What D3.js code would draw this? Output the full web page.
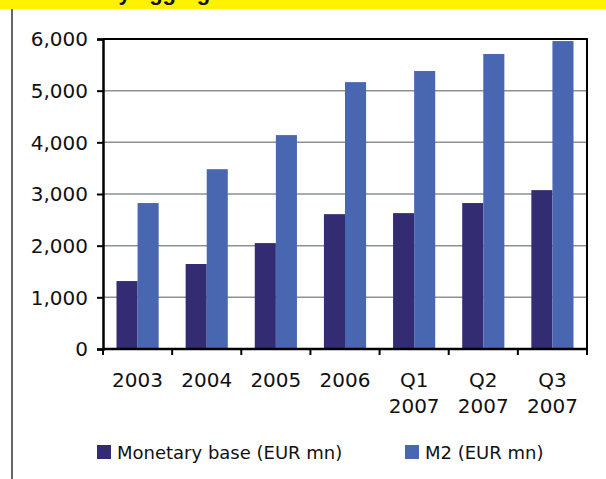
<!DOCTYPE html>
<html>
<head>
<meta charset="utf-8">
<script src="https://cdn.jsdelivr.net/npm/d3@7"></script>
<style>
  body { margin: 0; background: #fff; }
  svg text { font-family: "DejaVu Sans", sans-serif; fill: #111; }
</style>
</head>
<body>
<svg id="chart" width="606" height="479"></svg>
<script>
// data
let categories = ["2003", "2004", "2005", "2006", "Q1 2007", "Q2 2007", "Q3 2007"];
let monetaryBase = [1315, 1645, 2050, 2610, 2630, 2825, 3075];
let m2 = [2825, 3480, 4140, 5165, 5380, 5710, 5960];
let seriesNames = ["Monetary base (EUR mn)", "M2 (EUR mn)"];
let yTicks = [0, 1000, 2000, 3000, 4000, 5000, 6000];

let colors = ["#332c72", "#4867b0"];

let svg = d3.select("#chart");
let margin = {left: 103, right: 19, top: 39, bottom: 130},
    w = 606, h = 479;

// yellow title banner, only the bottom of it is visible
svg.append("clipPath").attr("id", "bannerClip")
    .append("rect").attr("x", 0).attr("y", 0).attr("width", w).attr("height", 9);
svg.append("rect")
    .attr("x", 0).attr("y", 0).attr("width", w).attr("height", 9)
    .attr("fill", "#fff200");
svg.append("text")
    .attr("clip-path", "url(#bannerClip)")
    .attr("x", 33).attr("y", 0)
    .style("font-family", "Liberation Sans, Arial, sans-serif")
    .style("font-weight", "bold")
    .style("font-size", "22px")
    .text("Monetary aggregates");

// left rule of the page
svg.append("line")
    .attr("x1", 12).attr("x2", 12).attr("y1", 9).attr("y2", h)
    .attr("stroke", "#333").attr("stroke-width", 1.5);

let x0 = d3.scaleBand().domain(categories)
    .range([margin.left, w - margin.right]);
let x1 = d3.scaleBand().domain([0, 1])
    .range([0, x0.bandwidth()])
    .paddingOuter(0.64);
let y = d3.scaleLinear().domain([0, 6000])
    .range([h - margin.bottom, margin.top]);

// gridlines
svg.append("g")
    .selectAll("line")
    .data(yTicks.filter(d => d > 0 && d < 6000))
    .enter()
    .append("line")
    .attr("x1", margin.left).attr("x2", w - margin.right)
    .attr("y1", d => y(d)).attr("y2", d => y(d))
    .attr("stroke", "#8d9095").attr("stroke-width", 1.5);

// bars
let rows = categories.map(function (c, i) {
    return {cat: c, values: [monetaryBase[i], m2[i]]};
});
svg.append("g")
    .selectAll("g")
    .data(rows)
    .enter()
    .append("g")
    .attr("transform", d => "translate(" + x0(d.cat) + ",0)")
    .selectAll("rect")
    .data(d => d.values)
    .enter()
    .append("rect")
    .attr("x", (d, i) => x1(i))
    .attr("width", x1.bandwidth())
    .attr("y", d => y(d))
    .attr("height", d => y(0) - y(d))
    .attr("fill", (d, i) => colors[i]);

// frame top and right
svg.append("path")
    .attr("d", "M" + margin.left + "," + y(6000) + "H" + (w - margin.right) + "V" + y(0))
    .attr("fill", "none").attr("stroke", "#000").attr("stroke-width", 2);

// y axis
let yAxis = d3.axisLeft(y).tickValues(yTicks)
    .tickFormat(d3.format(",")).tickSize(6).tickPadding(9);
let gy = svg.append("g")
    .attr("transform", "translate(" + margin.left + ",0)")
    .call(yAxis);
gy.select(".domain").attr("stroke", "#000").attr("stroke-width", 2.5);
gy.selectAll(".tick line").attr("stroke", "#000").attr("stroke-width", 2);
gy.selectAll(".tick text")
    .style("font-size", "20px").attr("fill", "#111").attr("dy", "0.34em");

// x axis: ticks on category boundaries
let bounds = categories.map(c => x0(c)).concat([w - margin.right]);
let gx = svg.append("g");
gx.append("line")
    .attr("x1", margin.left).attr("x2", w - margin.right)
    .attr("y1", y(0)).attr("y2", y(0))
    .attr("stroke", "#000").attr("stroke-width", 2.5);
gx.selectAll("line.tick")
    .data(bounds)
    .enter()
    .append("line")
    .attr("class", "tick")
    .attr("x1", d => d).attr("x2", d => d)
    .attr("y1", y(0)).attr("y2", y(0) + 6)
    .attr("stroke", "#000").attr("stroke-width", 2);

gx.selectAll("text")
    .data(categories)
    .enter()
    .append("text")
    .attr("text-anchor", "middle")
    .style("font-size", "20px")
    .attr("y", y(0) + 38)
    .each(function (d) {
        let parts = d.split(" ");
        let t = d3.select(this);
        let cx = x0(d) + x0.bandwidth() / 2;
        parts.forEach(function (p, i) {
            t.append("tspan")
                .attr("x", cx)
                .attr("dy", i === 0 ? 0 : 26)
                .text(p);
        });
    });

// legend
let legendX = [97, 405];
let legend = svg.append("g")
    .selectAll("g")
    .data(seriesNames)
    .enter()
    .append("g")
    .attr("transform", (d, i) => "translate(" + legendX[i] + ",445)");
legend.append("rect")
    .attr("width", 14).attr("height", 14)
    .attr("fill", (d, i) => colors[i]);
legend.append("text")
    .attr("x", 20).attr("y", 13.5)
    .style("font-size", "18px")
    .text(d => d);
</script>
</body>
</html>
